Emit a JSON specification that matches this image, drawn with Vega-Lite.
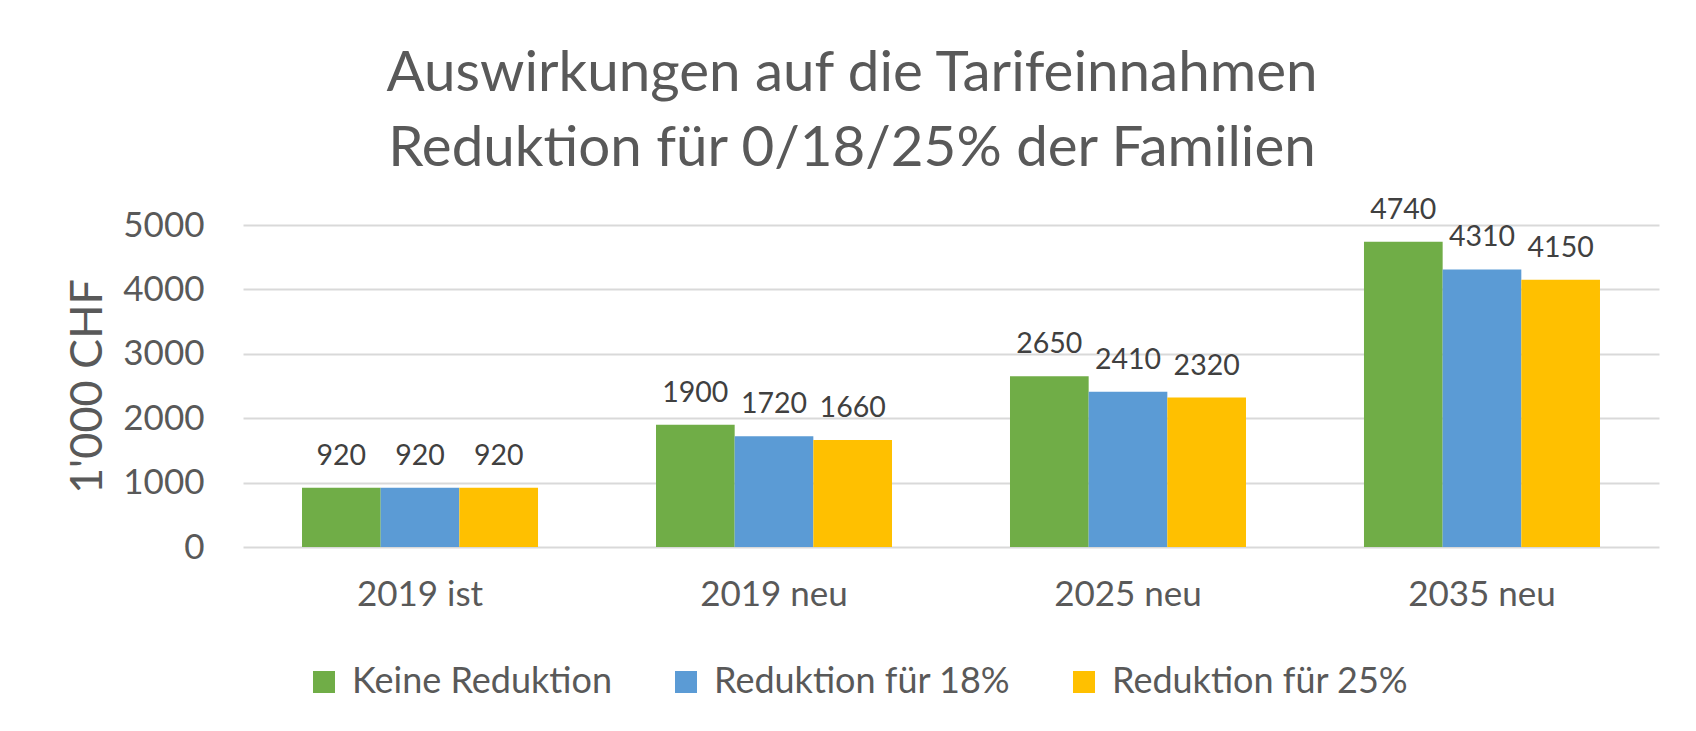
{
  "$schema": "https://vega.github.io/schema/vega-lite/v6.json",
  "width": 1416,
  "height": 322,
  "autosize": "none",
  "padding": {"left": 243, "top": 225, "right": 37, "bottom": 184},
  "background": "white",
  "config": {"font": "Lato", "view": {"stroke": null}},
  "title": {
    "text": ["Auswirkungen auf die Tarifeinnahmen", "Reduktion für 0/18/25% der Familien"],
    "fontSize": 56.5,
    "font": "Lato",
    "fontWeight": "normal",
    "color": "#595959",
    "lineHeight": 75,
    "anchor": "middle",
    "dx": -99,
    "offset": 18
  },
  "data": {
    "values": [
      {"Jahr": "2019 ist", "Szenario": "Keine Reduktion", "Wert": 920},
      {"Jahr": "2019 ist", "Szenario": "Reduktion für 18%", "Wert": 920},
      {"Jahr": "2019 ist", "Szenario": "Reduktion für 25%", "Wert": 920},
      {"Jahr": "2019 neu", "Szenario": "Keine Reduktion", "Wert": 1900},
      {"Jahr": "2019 neu", "Szenario": "Reduktion für 18%", "Wert": 1720},
      {"Jahr": "2019 neu", "Szenario": "Reduktion für 25%", "Wert": 1660},
      {"Jahr": "2025 neu", "Szenario": "Keine Reduktion", "Wert": 2650},
      {"Jahr": "2025 neu", "Szenario": "Reduktion für 18%", "Wert": 2410},
      {"Jahr": "2025 neu", "Szenario": "Reduktion für 25%", "Wert": 2320},
      {"Jahr": "2035 neu", "Szenario": "Keine Reduktion", "Wert": 4740},
      {"Jahr": "2035 neu", "Szenario": "Reduktion für 18%", "Wert": 4310},
      {"Jahr": "2035 neu", "Szenario": "Reduktion für 25%", "Wert": 4150}
    ]
  },
  "encoding": {
    "x": {
      "field": "Jahr",
      "type": "nominal",
      "sort": null,
      "scale": {"paddingInner": 0.3333, "paddingOuter": 0.1667},
      "axis": {
        "title": null,
        "labelAngle": 0,
        "labelFontSize": 35,
        "labelColor": "#595959",
        "labelPadding": 30,
        "ticks": false,
        "domain": false
      }
    },
    "xOffset": {
      "field": "Szenario",
      "type": "nominal",
      "sort": ["Keine Reduktion", "Reduktion für 18%", "Reduktion für 25%"],
      "scale": {"paddingInner": 0, "paddingOuter": 0}
    },
    "y": {
      "field": "Wert",
      "type": "quantitative",
      "scale": {"domain": [0, 5000], "nice": false},
      "axis": {
        "values": [0, 1000, 2000, 3000, 4000, 5000],
        "format": "d",
        "grid": true,
        "gridColor": "#d9d9d9",
        "gridWidth": 2,
        "domain": false,
        "ticks": false,
        "labelFontSize": 35,
        "labelColor": "#595959",
        "labelPadding": 39,
        "title": "1'000 CHF",
        "titleFontSize": 45,
        "titleFontWeight": "normal",
        "titleColor": "#595959",
        "titlePadding": 12
      }
    }
  },
  "layer": [
    {
      "mark": {"type": "bar"},
      "encoding": {
        "color": {
          "field": "Szenario",
          "type": "nominal",
          "scale": {
            "domain": ["Keine Reduktion", "Reduktion für 18%", "Reduktion für 25%"],
            "range": ["#70AD47", "#5B9BD5", "#FFC000"]
          },
          "legend": {
            "title": null,
            "orient": "none",
            "legendX": 63,
            "legendY": 439,
            "direction": "horizontal",
            "symbolType": "square",
            "symbolSize": 484,
            "symbolStrokeWidth": 0,
            "symbolOpacity": 1,
            "labelFontSize": 36,
            "labelLimit": 0,
            "labelColor": "#595959",
            "labelOffset": 10,
            "columnPadding": 55,
            "padding": 0
          }
        }
      }
    },
    {
      "mark": {"type": "text", "baseline": "alphabetic", "dy": -23, "fontSize": 28.5, "color": "#404040"},
      "encoding": {
        "text": {"field": "Wert", "type": "quantitative"}
      }
    }
  ]
}
